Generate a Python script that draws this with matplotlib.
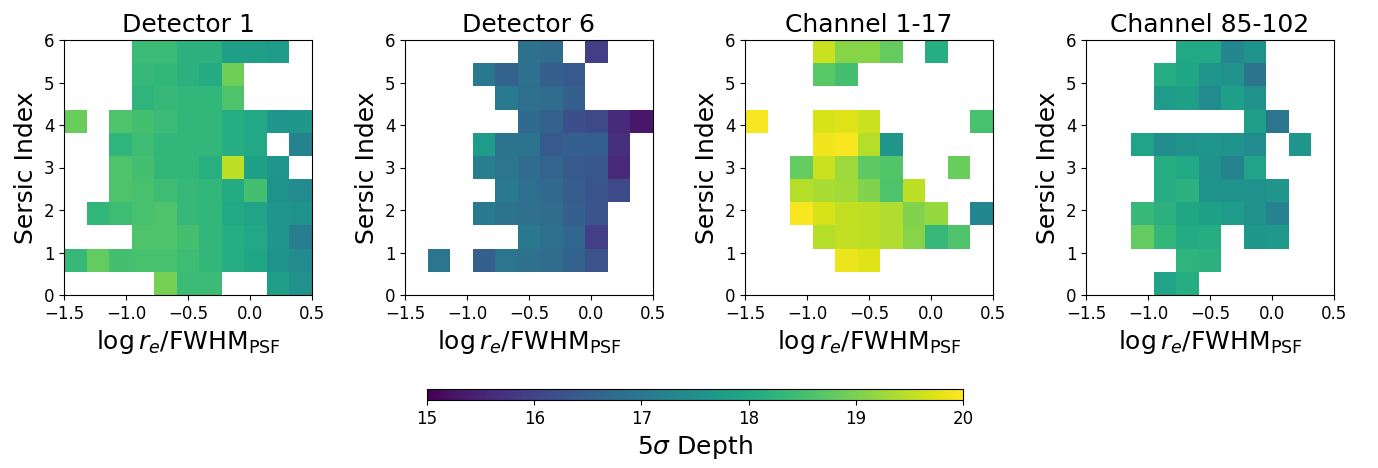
import numpy as np
import matplotlib
matplotlib.use("Agg")
import matplotlib.pyplot as plt

nan = np.nan

# Bin edges: log(r_e / FWHM_PSF) and Sersic index
X_EDGES = np.linspace(-1.5, 0.5, 12)
Y_EDGES = np.linspace(0, 6, 12)

TITLES = ["Detector 1", "Detector 6", "Channel 1-17", "Channel 85-102"]

# 5-sigma depth per bin, rows listed from the top (n ~ 6) down to n ~ 0
DEPTH_DET1 = [
    [nan, nan, nan, 18.4, 18.4, 18.2, 18.2, 17.8, 17.8, 17.75, nan],
    [nan, nan, nan, 18.35, 18.3, 18.2, 18.05, 18.9, nan, nan, nan],
    [nan, nan, nan, 18.25, 18.35, 18.3, 18.3, 18.6, nan, nan, nan],
    [18.85, nan, 18.6, 18.5, 18.4, 18.3, 18.3, 18.1, 18.0, 17.6, 17.65],
    [nan, nan, 18.25, 18.45, 18.3, 18.3, 18.3, 18.1, 18.0, nan, 17.2],
    [nan, nan, 18.6, 18.5, 18.3, 18.3, 18.15, 19.5, 17.85, 17.6, nan],
    [nan, nan, 18.6, 18.55, 18.45, 18.35, 18.3, 18.05, 18.5, 17.55, 17.4],
    [nan, 18.3, 18.45, 18.55, 18.6, 18.35, 18.3, 18.0, 17.9, 17.6, 17.55],
    [nan, nan, nan, 18.6, 18.6, 18.5, 18.3, 18.1, 18.0, 17.6, 17.1],
    [18.35, 18.8, 18.5, 18.55, 18.55, 18.45, 18.3, 18.1, 17.95, 17.55, 17.4],
    [nan, nan, nan, nan, 18.95, 18.4, 18.4, nan, nan, 17.8, 17.5],
]

DEPTH_DET6 = [
    [nan, nan, nan, nan, nan, 16.85, 16.75, nan, 15.9, nan, nan],
    [nan, nan, nan, 17.0, 16.55, 16.85, 16.5, 16.4, nan, nan, nan],
    [nan, nan, nan, nan, 17.05, 16.8, 16.75, 16.5, nan, nan, nan],
    [nan, nan, nan, nan, nan, 16.7, 16.55, 16.2, 16.1, 15.6, 15.3],
    [nan, nan, nan, 17.75, 16.9, 16.9, 16.4, 16.5, 16.5, 15.7, nan],
    [nan, nan, nan, 17.1, 16.95, 16.75, 16.6, 16.4, 16.35, 15.55, nan],
    [nan, nan, nan, nan, 17.05, 16.8, 16.7, 16.45, 16.3, 16.1, nan],
    [nan, nan, nan, 17.05, 16.9, 16.8, 16.75, 16.5, 16.3, nan, nan],
    [nan, nan, nan, nan, nan, 17.0, 16.8, 16.65, 15.9, nan, nan],
    [nan, 16.95, nan, 16.5, 16.95, 16.85, 16.75, 16.55, 16.25, nan, nan],
    [nan, nan, nan, nan, nan, nan, nan, nan, nan, nan, nan],
]

DEPTH_CH1_17 = [
    [nan, nan, nan, 19.6, 19.1, 19.1, 18.8, nan, 18.1, nan, nan],
    [nan, nan, nan, 18.7, 18.5, nan, nan, nan, nan, nan, nan],
    [nan, nan, nan, nan, nan, nan, nan, nan, nan, nan, nan],
    [19.95, nan, nan, 19.7, 19.75, 19.6, nan, nan, nan, nan, 18.55],
    [nan, nan, nan, 19.9, 19.95, 19.45, 17.6, nan, nan, nan, nan],
    [nan, nan, 18.8, 19.6, 19.25, 18.75, 18.65, nan, nan, 18.85, nan],
    [nan, nan, 19.45, 19.35, 19.3, 19.05, 18.6, 19.5, nan, nan, nan],
    [nan, nan, 19.95, 19.7, 19.55, 19.5, 19.4, 19.05, 19.2, nan, 17.3],
    [nan, nan, nan, 19.45, 19.55, 19.5, 19.4, 19.1, 18.35, 18.6, nan],
    [nan, nan, nan, nan, 19.85, 19.75, nan, nan, nan, nan, nan],
    [nan, nan, nan, nan, nan, nan, nan, nan, nan, nan, nan],
]

DEPTH_CH85_102 = [
    [nan, nan, nan, nan, 18.0, 18.0, 17.3, 17.55, nan, nan, nan],
    [nan, nan, nan, 18.1, 17.95, 17.6, 17.5, 16.9, nan, nan, nan],
    [nan, nan, nan, 17.75, 17.8, 17.4, 17.8, 17.5, nan, nan, nan],
    [nan, nan, nan, nan, nan, nan, nan, 17.8, 16.95, nan, nan],
    [nan, nan, 17.9, 17.45, 17.55, 17.6, 17.55, 17.4, nan, 17.6, nan],
    [nan, nan, nan, 18.1, 18.0, 17.5, 17.2, 17.9, nan, nan, nan],
    [nan, nan, nan, 18.1, 18.2, 17.55, 17.55, 17.5, 17.6, nan, nan],
    [nan, nan, 18.35, 18.2, 17.95, 17.85, 17.75, 17.5, 17.2, nan, nan],
    [nan, nan, 18.8, 18.3, 18.05, 18.1, nan, 17.65, 17.7, nan, nan],
    [nan, nan, nan, nan, 18.25, 18.2, nan, nan, nan, nan, nan],
    [nan, nan, nan, 17.9, 18.1, nan, nan, nan, nan, nan, nan],
]

VMIN, VMAX = 15, 20


def main():
    fig = plt.figure(figsize=(13.78, 4.68), dpi=100)

    grids = [DEPTH_DET1, DEPTH_DET6, DEPTH_CH1_17, DEPTH_CH85_102]
    lefts = [64, 405, 745, 1086]
    mesh = None
    for left, title, grid in zip(lefts, TITLES, grids):
        ax = fig.add_axes([left / 1378, (468 - 295) / 468, 248 / 1378, 255 / 468])
        z = np.ma.masked_invalid(np.flipud(np.array(grid, dtype=float)))
        mesh = ax.pcolormesh(X_EDGES, Y_EDGES, z, cmap="viridis",
                             vmin=VMIN, vmax=VMAX, shading="flat")
        ax.set_xlim(-1.5, 0.5)
        ax.set_ylim(0, 6)
        ax.set_xticks([-1.5, -1.0, -0.5, 0.0, 0.5])
        ax.set_yticks(range(7))
        ax.tick_params(labelsize=12)
        ax.set_title(title, fontsize=18)
        ax.set_xlabel(r"$\log r_e/\mathrm{FWHM}_{\rm PSF}$", fontsize=18)
        ax.set_ylabel("Sersic Index", fontsize=18)

    cax = fig.add_axes([427 / 1378, (468 - 400) / 468, 536 / 1378, 11 / 468])
    cb = fig.colorbar(mesh, cax=cax, orientation="horizontal")
    cb.set_ticks([15, 16, 17, 18, 19, 20])
    cb.ax.tick_params(labelsize=12)
    cb.set_label(r"5$\sigma$ Depth", fontsize=18)

    fig.savefig("out.png", dpi=100)
    plt.close(fig)


if __name__ == "__main__":
    main()
